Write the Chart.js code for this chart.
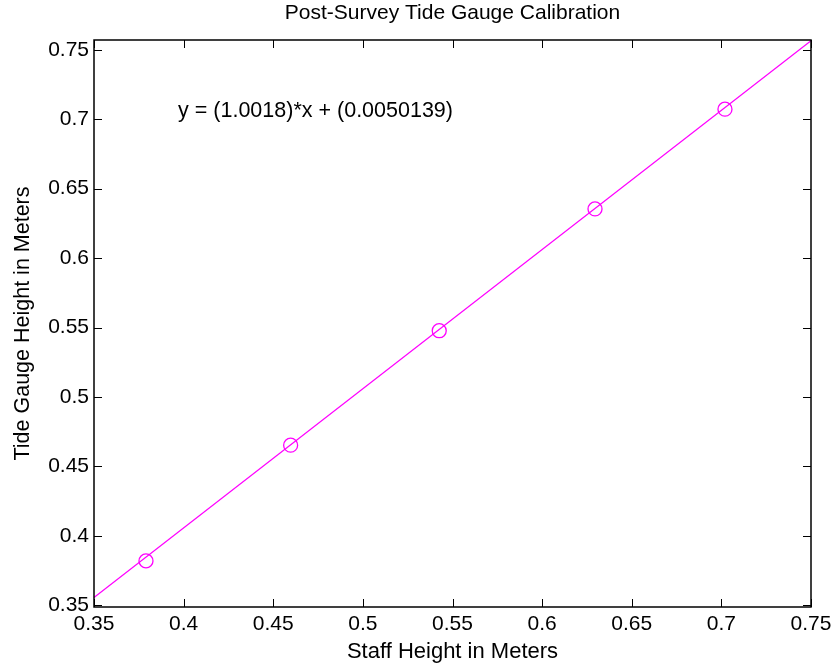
<!DOCTYPE html>
<html><head><meta charset="utf-8">
<script src="https://cdn.jsdelivr.net/npm/chart.js@4.4.0/dist/chart.umd.min.js"></script>
<style>html,body{margin:0;padding:0;background:#fff;}#wrap{width:837px;height:670px;}</style>
</head><body><div id="wrap"><canvas id="c" width="837" height="670"></canvas></div>
<script>
// Data
const staffHeight = [0.379, 0.4597, 0.5426, 0.6295, 0.702];
const gaugeHeight = [0.382, 0.4653, 0.5477, 0.6354, 0.7072];
const fitX = [0.35, 0.75];
const fitY = [0.3556, 0.7564];
const xTicks = [0.35, 0.4, 0.45, 0.5, 0.55, 0.6, 0.65, 0.7, 0.75];
const yTicks = [0.35, 0.4, 0.45, 0.5, 0.55, 0.6, 0.65, 0.7, 0.75];
const titleText = 'Post-Survey Tide Gauge Calibration';
const xLabel = 'Staff Height in Meters';
const yLabel = 'Tide Gauge Height in Meters';
const equationText = 'y = (1.0018)*x + (0.0050139)';

const FONT = '"Liberation Sans", Arial, sans-serif';
const FS = 21;
const MAG = '#ff00ff';

const boxPlugin = {
  id: 'matlabBox',
  afterDraw(chart) {
    const {ctx, chartArea: a, scales} = chart;
    ctx.save();
    ctx.strokeStyle = '#000';
    ctx.lineWidth = 1;
    const tl = 8;
    ctx.beginPath();
    xTicks.forEach(v => {
      const px = Math.round(scales.x.getPixelForValue(v)) + 0.5;
      ctx.moveTo(px, a.bottom); ctx.lineTo(px, a.bottom - tl);
      ctx.moveTo(px, a.top); ctx.lineTo(px, a.top + tl);
    });
    yTicks.forEach(v => {
      const py = Math.round(scales.y.getPixelForValue(v)) + 0.5;
      ctx.moveTo(a.left, py); ctx.lineTo(a.left + tl, py);
      ctx.moveTo(a.right, py); ctx.lineTo(a.right - tl, py);
    });
    ctx.stroke();
    ctx.lineWidth = 1.5;
    ctx.strokeRect(a.left, a.top, a.right - a.left, a.bottom - a.top);
    // equation annotation
    ctx.fillStyle = '#000';
    ctx.font = '21.5px ' + FONT;
    ctx.textAlign = 'left';
    ctx.textBaseline = 'middle';
    ctx.fillText(equationText, scales.x.getPixelForValue(0.3969), scales.y.getPixelForValue(0.7055));
    ctx.restore();
  }
};

const fmt = v => String(Number(v.toFixed(2)));

new Chart(document.getElementById('c'), {
  type: 'scatter',
  data: {
    datasets: [
      {
        label: 'fit',
        data: fitX.map((x, i) => ({x, y: fitY[i]})),
        showLine: true,
        borderColor: MAG,
        borderWidth: 1.2,
        pointRadius: 0,
        fill: false
      },
      {
        label: 'obs',
        data: staffHeight.map((x, i) => ({x, y: gaugeHeight[i]})),
        showLine: false,
        pointStyle: 'circle',
        pointRadius: 7,
        pointBorderColor: MAG,
        pointBackgroundColor: 'rgba(0,0,0,0)',
        pointBorderWidth: 1.3
      }
    ]
  },
  options: {
    responsive: false,
    devicePixelRatio: 1,
    animation: false,
    clip: false,
    layout: {padding: {top: 0, right: 26, bottom: 0, left: 0}},
    plugins: {
      legend: {display: false},
      tooltip: {enabled: false},
      title: {
        display: true,
        text: titleText,
        fullSize: false,
        color: '#000',
        font: {family: FONT, size: FS, weight: 'normal', lineHeight: 1.2},
        padding: {top: 1, bottom: 13.8}
      }
    },
    scales: {
      x: {
        type: 'linear',
        min: 0.35, max: 0.75,
        afterBuildTicks: s => { s.ticks = xTicks.map(v => ({value: v})); },
        afterFit: s => { s.height = 63; },
        grid: {display: false, drawTicks: false},
        border: {display: false},
        ticks: {color: '#000', font: {family: FONT, size: FS}, padding: 5, maxRotation: 0, autoSkip: false, callback: fmt},
        title: {display: true, text: xLabel, color: '#000', font: {family: FONT, size: 22}, padding: {top: 0, bottom: 5}}
      },
      y: {
        type: 'linear',
        min: 0.3488, max: 0.757,
        afterBuildTicks: s => { s.ticks = yTicks.map(v => ({value: v})); },
        afterFit: s => { s.width = 94; },
        grid: {display: false, drawTicks: false},
        border: {display: false},
        ticks: {color: '#000', font: {family: FONT, size: FS}, padding: 5, autoSkip: false, callback: fmt},
        title: {display: true, text: yLabel, color: '#000', font: {family: FONT, size: 21.5}, padding: {top: 10, bottom: 0}}
      }
    }
  },
  plugins: [boxPlugin]
});
</script></body></html>
